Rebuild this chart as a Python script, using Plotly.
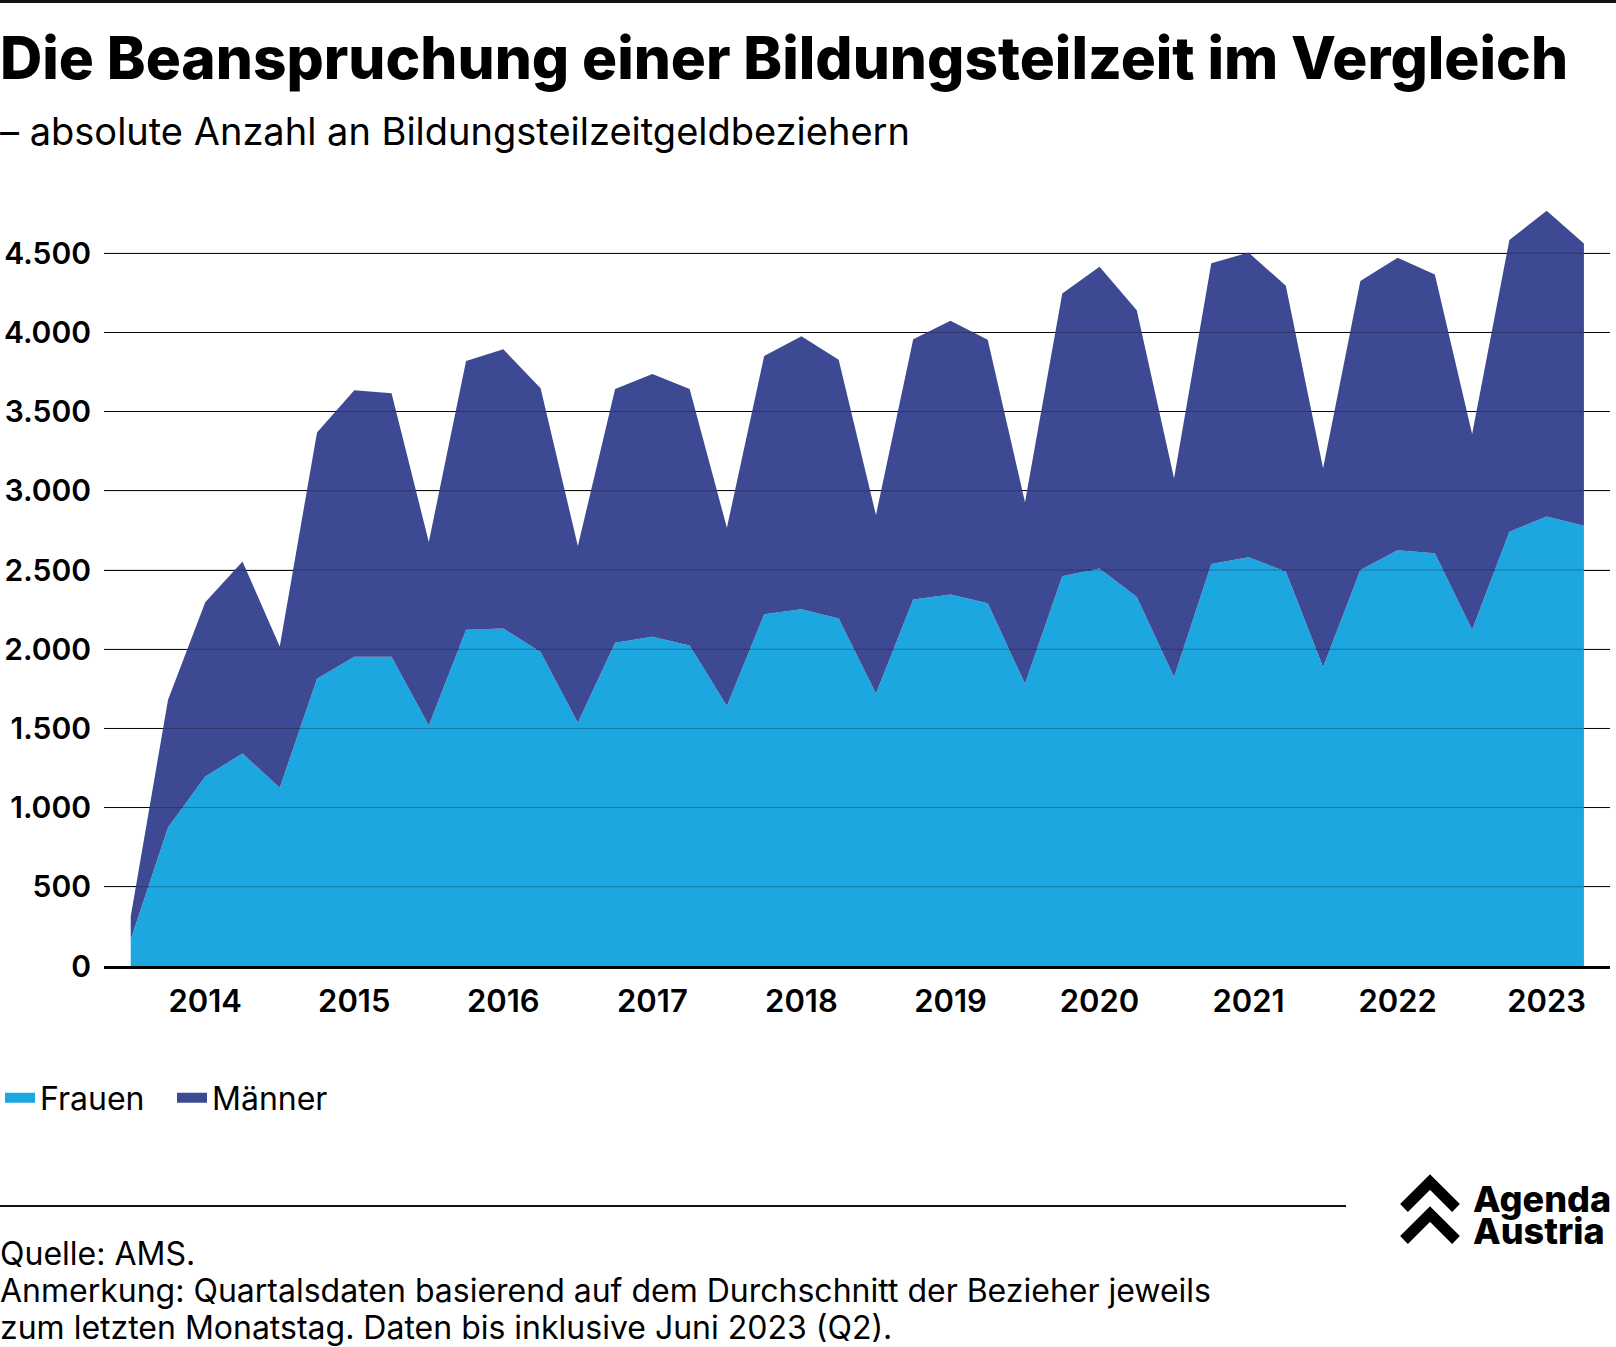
import plotly.graph_objects as go

# ---- data ----
years = list(range(2013, 2024))
quarters = [f"{y}-Q{q}" for y in years for q in (1, 2, 3, 4)][2:42]  # 2013 Q3 .. 2023 Q2

frauen = [167, 875, 1197, 1341, 1126, 1814, 1953, 1953, 1518, 2123, 2130, 1982,
          1535, 2040, 2078, 2023, 1641, 2220, 2252, 2194, 1721, 2313, 2345, 2290,
          1782, 2461, 2509, 2329, 1824, 2538, 2580, 2490, 1888, 2500, 2625, 2606,
          2123, 2741, 2837, 2779]
maenner = [145, 804, 1100, 1213, 891, 1554, 1682, 1663, 1159, 1696, 1763, 1666,
           1116, 1602, 1660, 1619, 1126, 1631, 1724, 1634, 1126, 1644, 1728, 1664,
           1145, 1785, 1905, 1811, 1255, 1898, 1924, 1805, 1255, 1824, 1847, 1759,
           1236, 1843, 1931, 1783]

ytick_vals = [0, 500, 1000, 1500, 2000, 2500, 3000, 3500, 4000, 4500]
ytick_text = ["0", "500", "1.000", "1.500", "2.000", "2.500", "3.000", "3.500", "4.000", "4.500"]
xtick_vals = [f"{y}-Q1" for y in range(2014, 2024)]
xtick_text = [str(y) for y in range(2014, 2024)]

footer_lines = ["Quelle: AMS.",
                "Anmerkung: Quartalsdaten basierend auf dem Durchschnitt der Bezieher jeweils",
                "zum letzten Monatstag. Daten bis inklusive Juni 2023 (Q2)."]

C_F = "#1DA7E0"
C_M = "#3D4A93"

W, H = 1616, 1347
L, R, T, B = 104, 6, 174, 381
PW, PH = W - L - R, H - T - B


def px(x):
    return (x - L) / PW


def py(y):
    return (H - B - y) / PH


FONT = "Inter"

fig = go.Figure()
fig.add_trace(go.Scatter(x=quarters, y=frauen, name="Frauen", mode="none",
                         stackgroup="one", fillcolor=C_F, hoverinfo="x+y",
                         showlegend=False))
fig.add_trace(go.Scatter(x=quarters, y=maenner, name="Männer", mode="none",
                         stackgroup="one", fillcolor=C_M, hoverinfo="x+y",
                         showlegend=False))
# legend entries (thick bar swatches)
for name, col in (("Frauen", C_F), ("Männer", C_M)):
    fig.add_trace(go.Scatter(x=[None], y=[None], name=name, mode="lines",
                             line=dict(color=col, width=10), hoverinfo="skip"))

shapes = []
# faint gridlines drawn over the areas
for v in ytick_vals[1:]:
    shapes.append(dict(type="line", xref="paper", yref="y", x0=0, x1=1, y0=v, y1=v,
                       line=dict(color="rgba(0,0,0,0.28)", width=1), layer="above"))
# top border
shapes.append(dict(type="line", xref="paper", yref="paper", x0=px(0), x1=px(W),
                   y0=py(1.5), y1=py(1.5), line=dict(color="#111", width=3)))
# footer separator
shapes.append(dict(type="line", xref="paper", yref="paper", x0=px(0), x1=px(1346),
                   y0=py(1206), y1=py(1206), line=dict(color="#111", width=2)))
# logo chevrons
for dy in (0, 32):
    path = (f"M {px(1404)},{py(1208 + dy)} L {px(1430)},{py(1182 + dy)} "
            f"L {px(1456)},{py(1208 + dy)}")
    shapes.append(dict(type="path", xref="paper", yref="paper", path=path,
                       line=dict(color="#000", width=11)))

annotations = [
    dict(text="Die Beanspruchung einer Bildungsteilzeit im Vergleich",
         x=px(-2), y=py(57), xanchor="left", yanchor="middle",
         font=dict(family=FONT, size=58.5, color="#000", weight=800)),
    dict(text="– absolute Anzahl an Bildungsteilzeitgeldbeziehern",
         x=px(-2), y=py(131), xanchor="left", yanchor="middle",
         font=dict(family=FONT, size=38, color="#000")),
    dict(text="Agenda", x=px(1471), y=py(1199), xanchor="left", yanchor="middle",
         font=dict(family=FONT, size=36, color="#000", weight=800)),
    dict(text="Austria", x=px(1471), y=py(1231), xanchor="left", yanchor="middle",
         font=dict(family=FONT, size=36, color="#000", weight=800)),
]
for i, line in enumerate(footer_lines):
    annotations.append(dict(text=line, x=px(-2), y=py(1253 + 37 * i), xanchor="left",
                            yanchor="middle",
                            font=dict(family=FONT, size=32, color="#000")))
for a in annotations:
    a.update(xref="paper", yref="paper", showarrow=False)

fig.update_layout(
    width=W, height=H,
    margin=dict(l=L, r=R, t=T, b=B, pad=0, autoexpand=False),
    paper_bgcolor="white", plot_bgcolor="white",
    showlegend=True,
    legend=dict(orientation="h", xref="container", yref="container",
                x=0 / W, y=1 - 1098 / H, xanchor="left", yanchor="middle",
                font=dict(family=FONT, size=32, color="#000"), traceorder="normal",
                itemwidth=30, entrywidth=127, entrywidthmode="pixels",
                bgcolor="rgba(0,0,0,0)"),
    xaxis=dict(type="category", range=[-0.717, 39.70], tickvals=xtick_vals,
               ticktext=xtick_text, showgrid=False, showline=True, linecolor="#000",
               linewidth=2.5, ticks="", ticklabelstandoff=6, automargin=False,
               tickfont=dict(family=FONT, size=31, color="#000", weight=600)),
    yaxis=dict(range=[0, 5000], tickvals=ytick_vals, ticktext=ytick_text,
               showgrid=True, gridcolor="#111", gridwidth=1, zeroline=False,
               ticks="", ticklabelstandoff=12, automargin=False,
               tickfont=dict(family=FONT, size=30, color="#000", weight=600)),
    shapes=shapes,
    annotations=annotations,
)

fig.write_html("out.html", config={"displayModeBar": False},
               post_script="document.body.style.margin='0';document.body.style.padding='0';")
